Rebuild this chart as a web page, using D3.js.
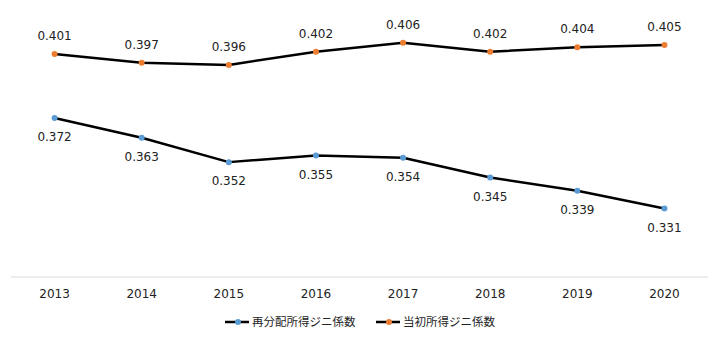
<!DOCTYPE html>
<html><head><meta charset="utf-8">
<script src="https://cdn.jsdelivr.net/npm/d3@7"></script>
<style>body{margin:0;background:#fff}svg{display:block}</style>
</head><body>
<svg id="c" width="720" height="340"></svg>
<script>
const years = ["2013","2014","2015","2016","2017","2018","2019","2020"];
const redistributed = [0.372,0.363,0.352,0.355,0.354,0.345,0.339,0.331];
const initial = [0.401,0.397,0.396,0.402,0.406,0.402,0.404,0.405];
const seriesNames = ["再分配所得ジニ係数","当初所得ジニ係数"];
const colors = ["#5B9BD5","#ED7D31"];

const svg = d3.select("#c");
const font = "Verdana, 'DejaVu Sans', sans-serif";
const x = d3.scaleBand().domain(years).range([11,708]);
const y = d3.scaleLinear().domain([0.30,0.41]).range([277,34]);

svg.append("line").attr("x1",11).attr("x2",708).attr("y1",y(0.30)).attr("y2",y(0.30))
  .attr("stroke","#d9d9d9").attr("stroke-width",1);

const xAxis = svg.append("g").attr("transform",`translate(0,${y(0.30)})`)
  .call(d3.axisBottom(x).tickSize(0).tickPadding(12));
xAxis.select(".domain").remove();
xAxis.selectAll("text").attr("font-family",font).attr("font-size",12).attr("fill","#222");

const cx = d => x(d)+x.bandwidth()/2;
const line = d3.line().x((d,i)=>cx(years[i])).y(d=>y(d));

[[redistributed,0,19],[initial,1,-18]].forEach(([vals,k,off])=>{
  svg.append("path").datum(vals).attr("d",line).attr("fill","none")
    .attr("stroke","#000").attr("stroke-width",2.5).attr("stroke-linejoin","round");
  svg.selectAll(null).data(vals).enter().append("circle")
    .attr("cx",(d,i)=>cx(years[i])).attr("cy",d=>y(d)).attr("r",3).attr("fill",colors[k]);
  svg.selectAll(null).data(vals).enter().append("text")
    .attr("x",(d,i)=>cx(years[i])).attr("y",d=>y(d)+off).attr("dy","0.35em")
    .attr("text-anchor","middle").attr("font-family",font).attr("font-size",12).attr("fill","#222")
    .text(d=>d.toFixed(3));
});

const legX = [225,376];
seriesNames.forEach((n,k)=>{
  const g = svg.append("g").attr("transform",`translate(${legX[k]},322)`);
  g.append("line").attr("x1",0).attr("x2",24).attr("stroke","#000").attr("stroke-width",2.5);
  g.append("circle").attr("cx",13).attr("r",3).attr("fill",colors[k]);
  g.append("text").attr("x",27).attr("dy","0.35em").attr("font-family","'Noto Sans CJK JP', sans-serif")
    .attr("font-size",11.5).attr("fill","#222").text(n);
});
</script>
</body></html>
